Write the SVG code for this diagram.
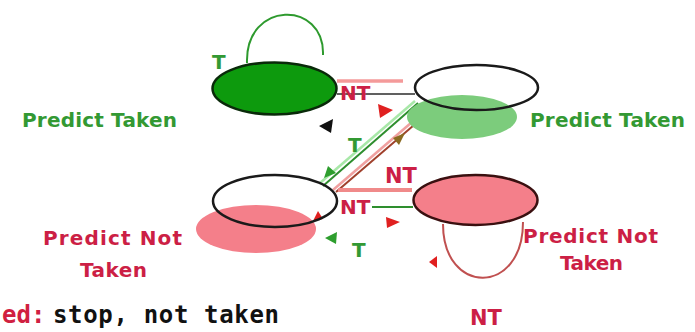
<svg xmlns="http://www.w3.org/2000/svg" width="695" height="332" viewBox="0 0 695 332">
<style>
.lbl{font-family:"DejaVu Sans","Verdana",sans-serif;font-weight:bold;font-size:20px}
.g{fill:#339933}
.r{fill:#cc1f45}
.outline{fill:none;stroke:#1a1a1a;stroke-width:2.5}
.mono{font-family:"DejaVu Sans Mono",monospace;font-weight:bold;font-size:24px;fill:#111}
</style>
<rect width="695" height="332" fill="#ffffff"/>
<g id="connectors" fill="none" stroke-width="2">
<path d="M247 63 C245 0 325 0 323 55" stroke="#2e9a2e"/>
<path d="M443 224 C443 296 523 296 523 222" stroke="#c05050"/>
<line x1="337" y1="81" x2="403" y2="81" stroke="#f49a9a" stroke-width="3.5"/>
<line x1="337" y1="94" x2="415" y2="94" stroke="#606060"/>
<line x1="320" y1="183" x2="415" y2="101" stroke="#a8e8a8" stroke-width="2.5"/>
<line x1="323" y1="186" x2="418" y2="103" stroke="#2e8e2e"/>
<line x1="333" y1="190" x2="433" y2="104" stroke="#f0a0a0" stroke-width="2.5"/>
<line x1="336" y1="192" x2="435" y2="107" stroke="#a0402c"/>
<line x1="338" y1="190" x2="412" y2="190" stroke="#f08a8a" stroke-width="4"/>
<line x1="372" y1="207" x2="413" y2="207" stroke="#2e8e2e"/>
<polygon points="319,126 333,119 331,133" fill="#111" stroke="none"/>
<polygon points="378,104 380,118 393,110" fill="#e02020" stroke="none"/>
<polygon points="324,178 328,166 336,173" fill="#2e9e2e" stroke="none"/>
<polygon points="405,133 393,138 399,145" fill="#8a6a20" stroke="none"/>
<polygon points="386,217 387,228 400,222" fill="#e02020" stroke="none"/>
<polygon points="313,221 318,211 323,219" fill="#e02020" stroke="none"/>
<polygon points="325,238 337,232 336,244" fill="#2e9e2e" stroke="none"/>
<polygon points="429,262 437,256 437,268" fill="#e02020" stroke="none"/>
</g>
<g id="state-taken-strong">
<ellipse cx="274.5" cy="88.5" rx="62" ry="26" fill="#0d9a0d" stroke="#0a2a0a" stroke-width="2.5"/>
<text class="lbl g" x="22" y="127" textLength="155">Predict Taken</text>
</g>
<g id="state-taken-weak">
<ellipse cx="462" cy="117" rx="55" ry="22" fill="#7ccc7c"/>
<ellipse class="outline" cx="476.5" cy="87.5" rx="61.5" ry="22.5"/>
<text class="lbl g" x="530" y="127" textLength="155">Predict Taken</text>
</g>
<g id="state-nottaken-weak">
<ellipse cx="256" cy="229" rx="60" ry="24" fill="#f47f8a"/>
<ellipse class="outline" cx="275" cy="201" rx="62" ry="26"/>
<text class="lbl r" x="43" y="245" textLength="139">Predict Not</text>
<text class="lbl r" x="80" y="277" textLength="67">Taken</text>
</g>
<g id="state-nottaken-strong">
<ellipse cx="475.5" cy="200" rx="62" ry="25" fill="#f47f8a" stroke="#3a1010" stroke-width="2.5"/>
<text class="lbl r" x="523" y="243" textLength="135">Predict Not</text>
<text class="lbl r" x="560" y="270" textLength="63">Taken</text>
</g>
<g id="edge-labels">
<text class="lbl g" x="212" y="69">T</text>
<text class="lbl r" x="340" y="100">NT</text>
<text class="lbl g" x="348" y="152">T</text>
<text class="lbl r" x="385" y="183" style="font-size:21px">NT</text>
<text class="lbl r" x="340" y="214">NT</text>
<text class="lbl g" x="352" y="257">T</text>
</g>
<g id="footer">
<text class="mono" y="323"><tspan x="2" fill="#d02040">ed:</tspan><tspan x="53" textLength="226">stop, not taken</tspan></text>
<text class="lbl r" x="470" y="325" style="font-size:21px">NT</text>
</g>
</svg>
